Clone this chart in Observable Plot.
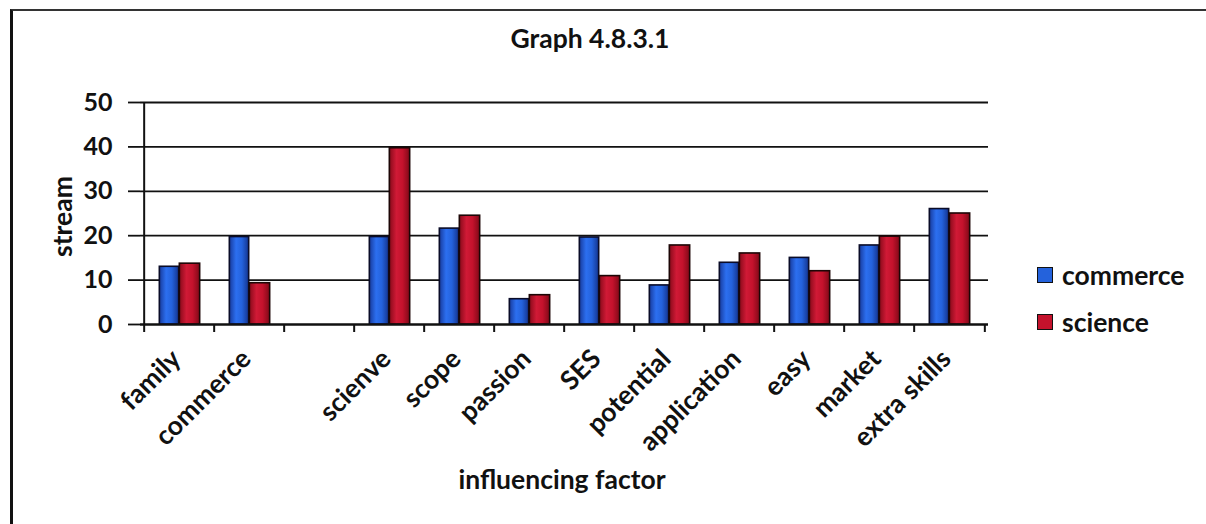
<!DOCTYPE html>
<html>
<head>
<meta charset="utf-8">
<script src="https://cdn.jsdelivr.net/npm/d3@7"></script>
<script src="https://cdn.jsdelivr.net/npm/@observablehq/plot@0.6"></script>
<style>
  html, body { margin: 0; padding: 0; background: #fff; }
  #wrap { position: relative; width: 1206px; height: 524px; overflow: hidden; font-family: Lato, "Open Sans", sans-serif; font-weight: bold; color: #111; }
  #wrap svg { position: absolute; left: 0; top: 0; }
  #border { position: absolute; left: 10px; top: 9px; width: 1300px; height: 600px; border-left: 3px solid #111; border-top: 2px solid #333; }
  #title { position: absolute; left: 0; width: 1180px; top: 21px; text-align: center; font-size: 26.5px; line-height: 34px; }
  .leg { position: absolute; left: 1037px; font-size: 26.5px; line-height: 30px; display: flex; align-items: center; }
  .sw { width: 16px; height: 16px; margin-right: 9px; border: 1px solid #111; box-sizing: border-box; }
</style>
</head>
<body>
<div id="wrap">
  <div id="border"></div>
  <div id="title">Graph 4.8.3.1</div>
</div>
<script>
const categories = ["family", "commerce", "", "scienve", "scope", "passion", "SES", "potential", "application", "easy", "market", "extra skills"];
const commerce = [13, 19.7, null, 19.7, 21.6, 5.7, 19.6, 8.8, 13.9, 15, 17.8, 26];
const science  = [13.7, 9.3, null, 39.7, 24.5, 6.6, 10.9, 17.8, 16, 12, 19.8, 25];
const seriesNames = ["commerce", "science"];
const seriesColors = ["#2462dc", "#c4122c"];
const yTicks = [0, 10, 20, 30, 40, 50];

const W = 1206, H = 524, mL = 140, mR = 218, mT = 102, mB = 200;
const bw = (W - mL - mR) / categories.length;

const rowsC = categories.map((c, i) => ({category: c, value: commerce[i]})).filter(d => d.value != null);
const rowsS = categories.map((c, i) => ({category: c, value: science[i]})).filter(d => d.value != null);

const FS = 26.5;

const svg = Plot.plot({
  width: W, height: H,
  marginLeft: mL, marginRight: mR, marginTop: mT, marginBottom: mB,
  style: {fontFamily: "Lato, 'Open Sans', sans-serif", fontWeight: "bold", color: "#111", background: "transparent", overflow: "visible"},
  x: {domain: categories, padding: 0, label: null},
  y: {domain: [0, 50], label: null},
  marks: [
    Plot.gridY(yTicks, {stroke: "#111", strokeOpacity: 1, strokeWidth: 1.8}),
    Plot.barY(rowsC, {x: "category", y: "value", fill: "url(#gBlue)", stroke: "#0a0c28", strokeWidth: 1.6, insetLeft: bw / 2 - 20, insetRight: bw / 2}),
    Plot.barY(rowsS, {x: "category", y: "value", fill: "url(#gRed)", stroke: "#1c0606", strokeWidth: 1.6, insetLeft: bw / 2, insetRight: bw / 2 - 21}),
    Plot.ruleY([0], {stroke: "#111", strokeWidth: 2}),
    Plot.ruleX([categories[0]], {dx: -bw / 2, stroke: "#111", strokeWidth: 2}),
    Plot.axisY(yTicks, {tickSize: 12, tickPadding: 16, stroke: "#111", strokeWidth: 1.8, fontSize: 25, label: null}),
    Plot.axisX({tickSize: 8, dx: -bw / 2, text: null, stroke: "#111", strokeWidth: 2, label: null}),
    Plot.axisX([categories[categories.length - 1]], {tickSize: 8, dx: bw / 2, text: null, stroke: "#111", strokeWidth: 2, label: null}),
    Plot.axisX({tickSize: 0, tickPadding: 30, tickRotate: -45, fontSize: FS, label: null, dx: -3}),
    Plot.text(["stream"], {frameAnchor: "left", textAnchor: "middle", lineAnchor: "middle", dx: -77, dy: 3, rotate: -90, fontSize: FS, fontWeight: "bold"}),
    Plot.text(["influencing factor"], {frameAnchor: "bottom", textAnchor: "middle", lineAnchor: "middle", dx: -2.5, dy: 156, fontSize: FS, fontWeight: "bold"})
  ]
});

const defs = d3.select(svg).insert("defs", ":first-child");
function grad(id, stops) {
  const g = defs.append("linearGradient").attr("id", id).attr("x1", "0").attr("x2", "1").attr("y1", "0").attr("y2", "0");
  stops.forEach(([o, c]) => g.append("stop").attr("offset", o).attr("stop-color", c));
}
grad("gBlue", [[0, "#173a9c"], [0.35, "#2c6ff0"], [0.65, "#2462dc"], [1, "#14348e"]]);
grad("gRed", [[0, "#880a1a"], [0.35, "#d01a36"], [0.65, "#c4122c"], [1, "#800918"]]);

const wrap = document.getElementById("wrap");
wrap.appendChild(svg);

seriesNames.forEach((name, i) => {
  const div = document.createElement("div");
  div.className = "leg";
  div.style.top = (260 + i * 47) + "px";
  const sw = document.createElement("span");
  sw.className = "sw";
  sw.style.background = seriesColors[i];
  div.appendChild(sw);
  div.appendChild(document.createTextNode(name));
  wrap.appendChild(div);
});
</script>
</body>
</html>
